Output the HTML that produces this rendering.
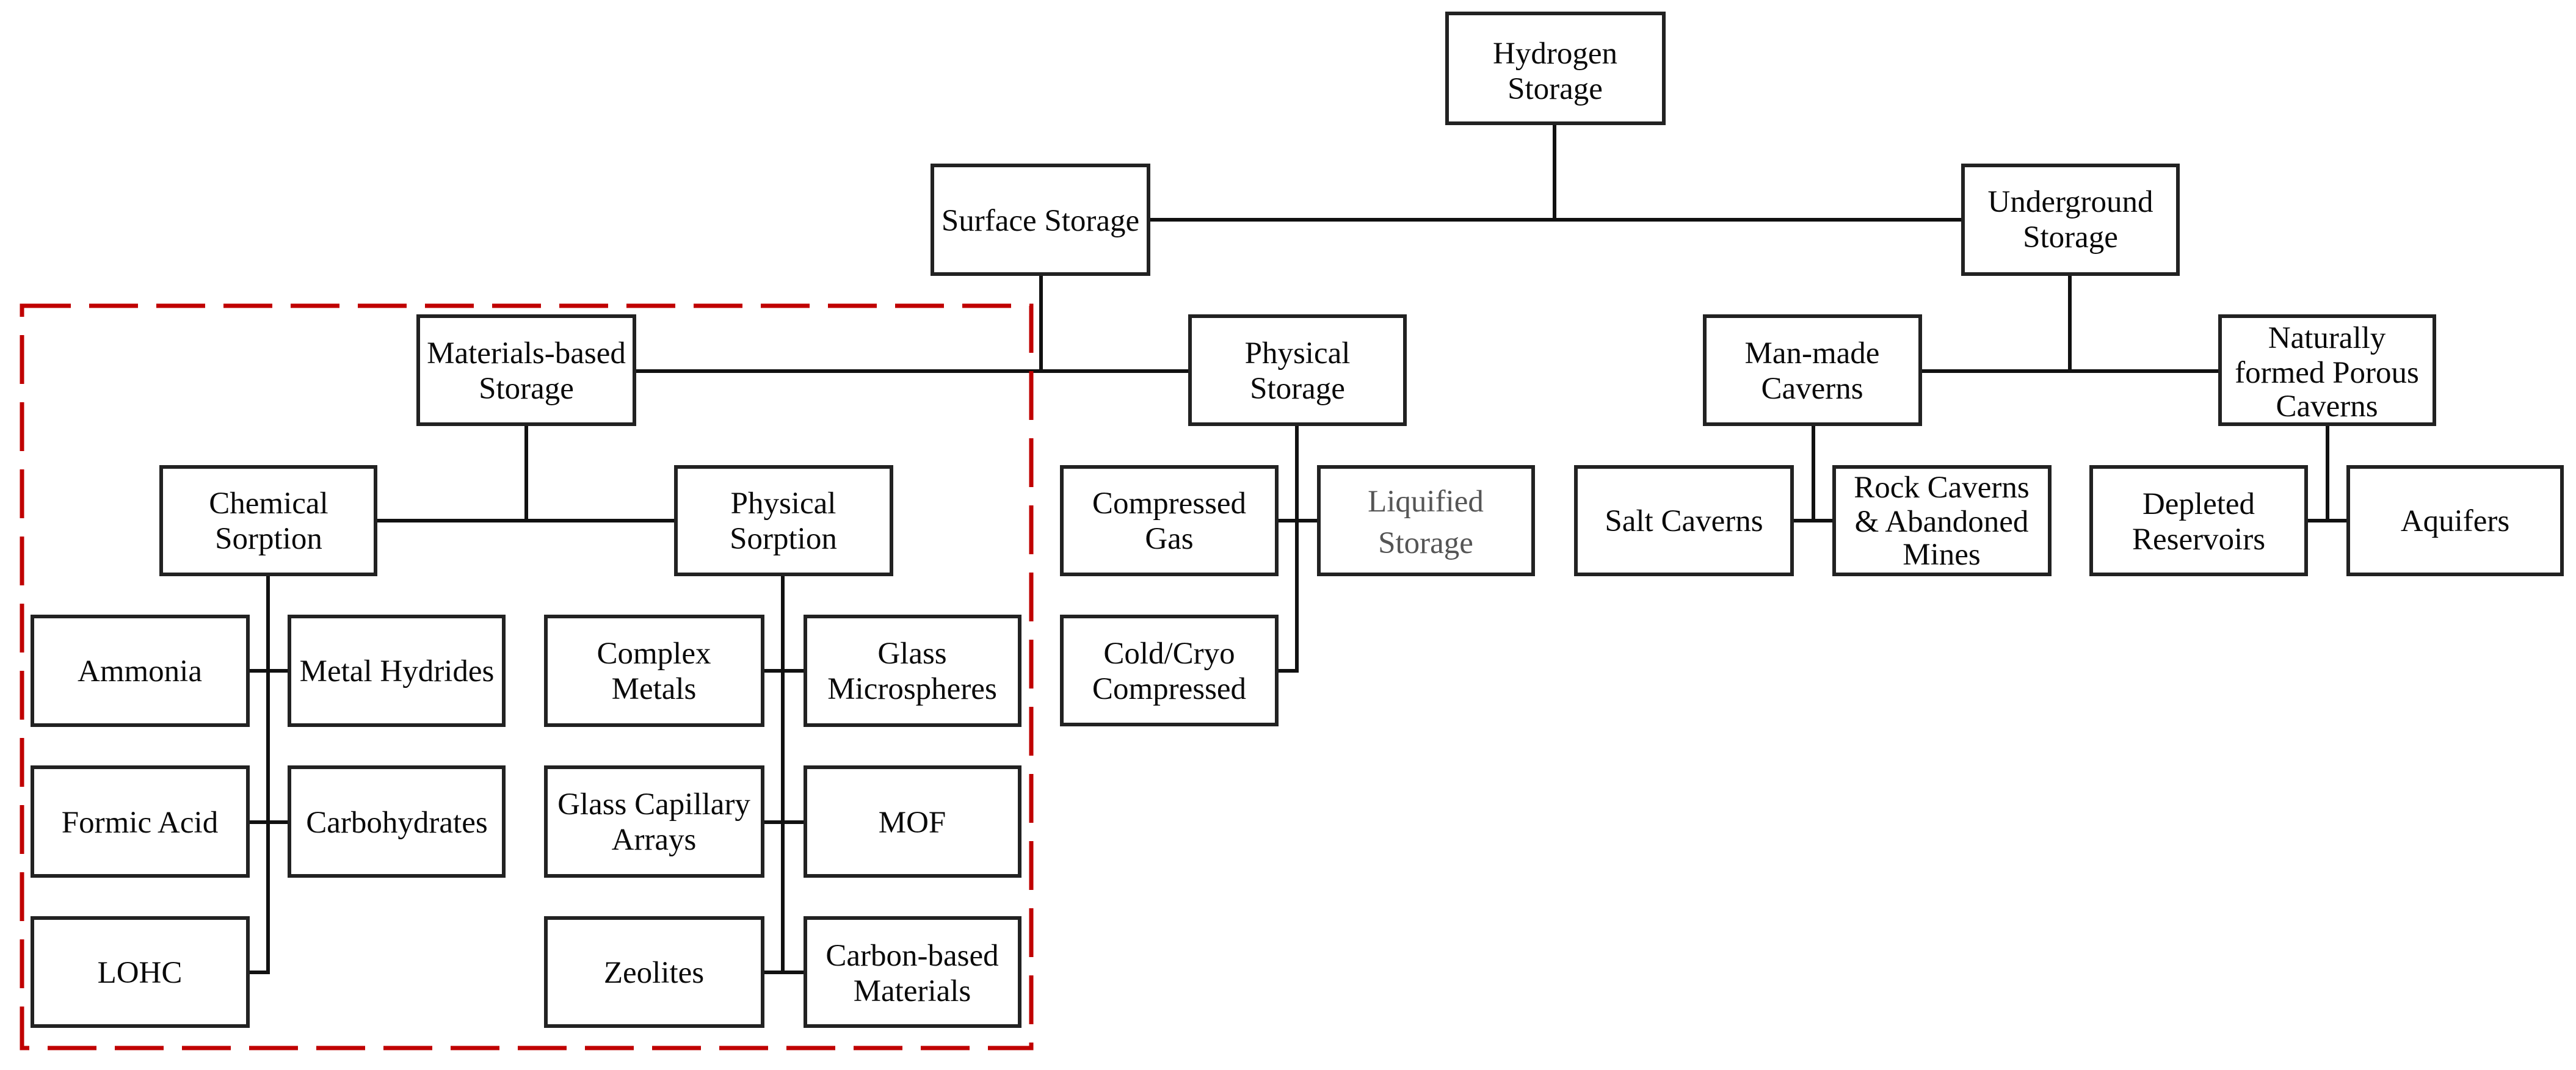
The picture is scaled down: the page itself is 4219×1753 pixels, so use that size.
<!DOCTYPE html>
<html><head><meta charset="utf-8"><style>
html,body{margin:0;padding:0;background:#fff;}
svg{display:block;}
text{font-family:"Liberation Serif","DejaVu Serif",serif;font-size:51px;fill:#0a0a0a;text-anchor:middle;}
</style></head><body>
<svg width="4219" height="1753" viewBox="0 0 4219 1753" xmlns="http://www.w3.org/2000/svg">
<g stroke="#111" stroke-width="6" fill="none">
<line x1="2546" y1="202" x2="2546" y2="360"/>
<line x1="1881" y1="360" x2="3215" y2="360"/>
<line x1="1705" y1="449" x2="1705" y2="608"/>
<line x1="1039" y1="608" x2="1949" y2="608"/>
<line x1="3390" y1="449" x2="3390" y2="608"/>
<line x1="3145" y1="608" x2="3636" y2="608"/>
<line x1="862" y1="695" x2="862" y2="853"/>
<line x1="615" y1="853" x2="1107" y2="853"/>
<line x1="439" y1="941" x2="439" y2="1593"/>
<line x1="406" y1="1099" x2="474" y2="1099"/>
<line x1="406" y1="1347" x2="474" y2="1347"/>
<line x1="406" y1="1593" x2="442" y2="1593"/>
<line x1="1282" y1="941" x2="1282" y2="1593"/>
<line x1="1249" y1="1099" x2="1319" y2="1099"/>
<line x1="1249" y1="1347" x2="1319" y2="1347"/>
<line x1="1249" y1="1593" x2="1319" y2="1593"/>
<line x1="2124" y1="695" x2="2124" y2="1099"/>
<line x1="2091" y1="853" x2="2160" y2="853"/>
<line x1="2091" y1="1099" x2="2127" y2="1099"/>
<line x1="2970" y1="695" x2="2970" y2="853"/>
<line x1="2935" y1="853" x2="3004" y2="853"/>
<line x1="3812" y1="695" x2="3812" y2="853"/>
<line x1="3777" y1="853" x2="3846" y2="853"/>
</g>
<rect x="36" y="501" width="1653" height="1216" fill="none" stroke="#c00000" stroke-width="7" stroke-dasharray="80 30"/>
<g stroke="#222" stroke-width="6" fill="#fff">
<rect x="2370" y="22" width="355" height="180"/>
<rect x="1527" y="271" width="354" height="178"/>
<rect x="3215" y="271" width="352" height="178"/>
<rect x="685" y="518" width="354" height="177"/>
<rect x="1949" y="518" width="352" height="177"/>
<rect x="2792" y="518" width="353" height="177"/>
<rect x="3636" y="518" width="351" height="177"/>
<rect x="264" y="765" width="351" height="176"/>
<rect x="1107" y="765" width="353" height="176"/>
<rect x="1739" y="765" width="352" height="176"/>
<rect x="2160" y="765" width="351" height="176"/>
<rect x="2581" y="765" width="354" height="176"/>
<rect x="3004" y="765" width="353" height="176"/>
<rect x="3425" y="765" width="352" height="176"/>
<rect x="3846" y="765" width="350" height="176"/>
<rect x="1739" y="1010" width="352" height="177"/>
<rect x="53" y="1010" width="353" height="178"/>
<rect x="474" y="1010" width="351" height="178"/>
<rect x="894" y="1010" width="355" height="178"/>
<rect x="1319" y="1010" width="351" height="178"/>
<rect x="53" y="1257" width="353" height="178"/>
<rect x="474" y="1257" width="351" height="178"/>
<rect x="894" y="1257" width="355" height="178"/>
<rect x="1319" y="1257" width="351" height="178"/>
<rect x="53" y="1504" width="353" height="177"/>
<rect x="894" y="1504" width="355" height="177"/>
<rect x="1319" y="1504" width="351" height="177"/>
</g>
<g font-family="Liberation Serif, DejaVu Serif, serif" font-size="51" text-anchor="middle">
<text x="2547" y="104">Hydrogen</text><text x="2547" y="162">Storage</text>
<text x="1704" y="378">Surface Storage</text>
<text x="3391" y="347">Underground</text><text x="3391" y="405">Storage</text>
<text x="862" y="595">Materials-based</text><text x="862" y="653">Storage</text>
<text x="2125" y="595">Physical</text><text x="2125" y="653">Storage</text>
<text x="2968" y="595">Man-made</text><text x="2968" y="653">Caverns</text>
<text x="3811" y="570">Naturally</text><text x="3811" y="627">formed Porous</text><text x="3811" y="682">Caverns</text>
<text x="440" y="841">Chemical</text><text x="440" y="899">Sorption</text>
<text x="1283" y="841">Physical</text><text x="1283" y="899">Sorption</text>
<text x="1915" y="841">Compressed</text><text x="1915" y="899">Gas</text>
<text x="2335" y="838" style="fill:#555">Liquified</text><text x="2335" y="906" style="fill:#555">Storage</text>
<text x="2758" y="870">Salt Caverns</text>
<text x="3180" y="815">Rock Caverns</text><text x="3180" y="871">&amp; Abandoned</text><text x="3180" y="925">Mines</text>
<text x="3601" y="842">Depleted</text><text x="3601" y="900">Reservoirs</text>
<text x="4021" y="870">Aquifers</text>
<text x="1915" y="1087">Cold/Cryo</text><text x="1915" y="1145">Compressed</text>
<text x="229" y="1116">Ammonia</text>
<text x="650" y="1116">Metal Hydrides</text>
<text x="1071" y="1087">Complex</text><text x="1071" y="1145">Metals</text>
<text x="1494" y="1087">Glass</text><text x="1494" y="1145">Microspheres</text>
<text x="229" y="1364">Formic Acid</text>
<text x="650" y="1364">Carbohydrates</text>
<text x="1071" y="1334">Glass Capillary</text><text x="1071" y="1392">Arrays</text>
<text x="1494" y="1364">MOF</text>
<text x="229" y="1610">LOHC</text>
<text x="1071" y="1610">Zeolites</text>
<text x="1494" y="1582">Carbon-based</text><text x="1494" y="1640">Materials</text>
</g>
</svg>
</body></html>
